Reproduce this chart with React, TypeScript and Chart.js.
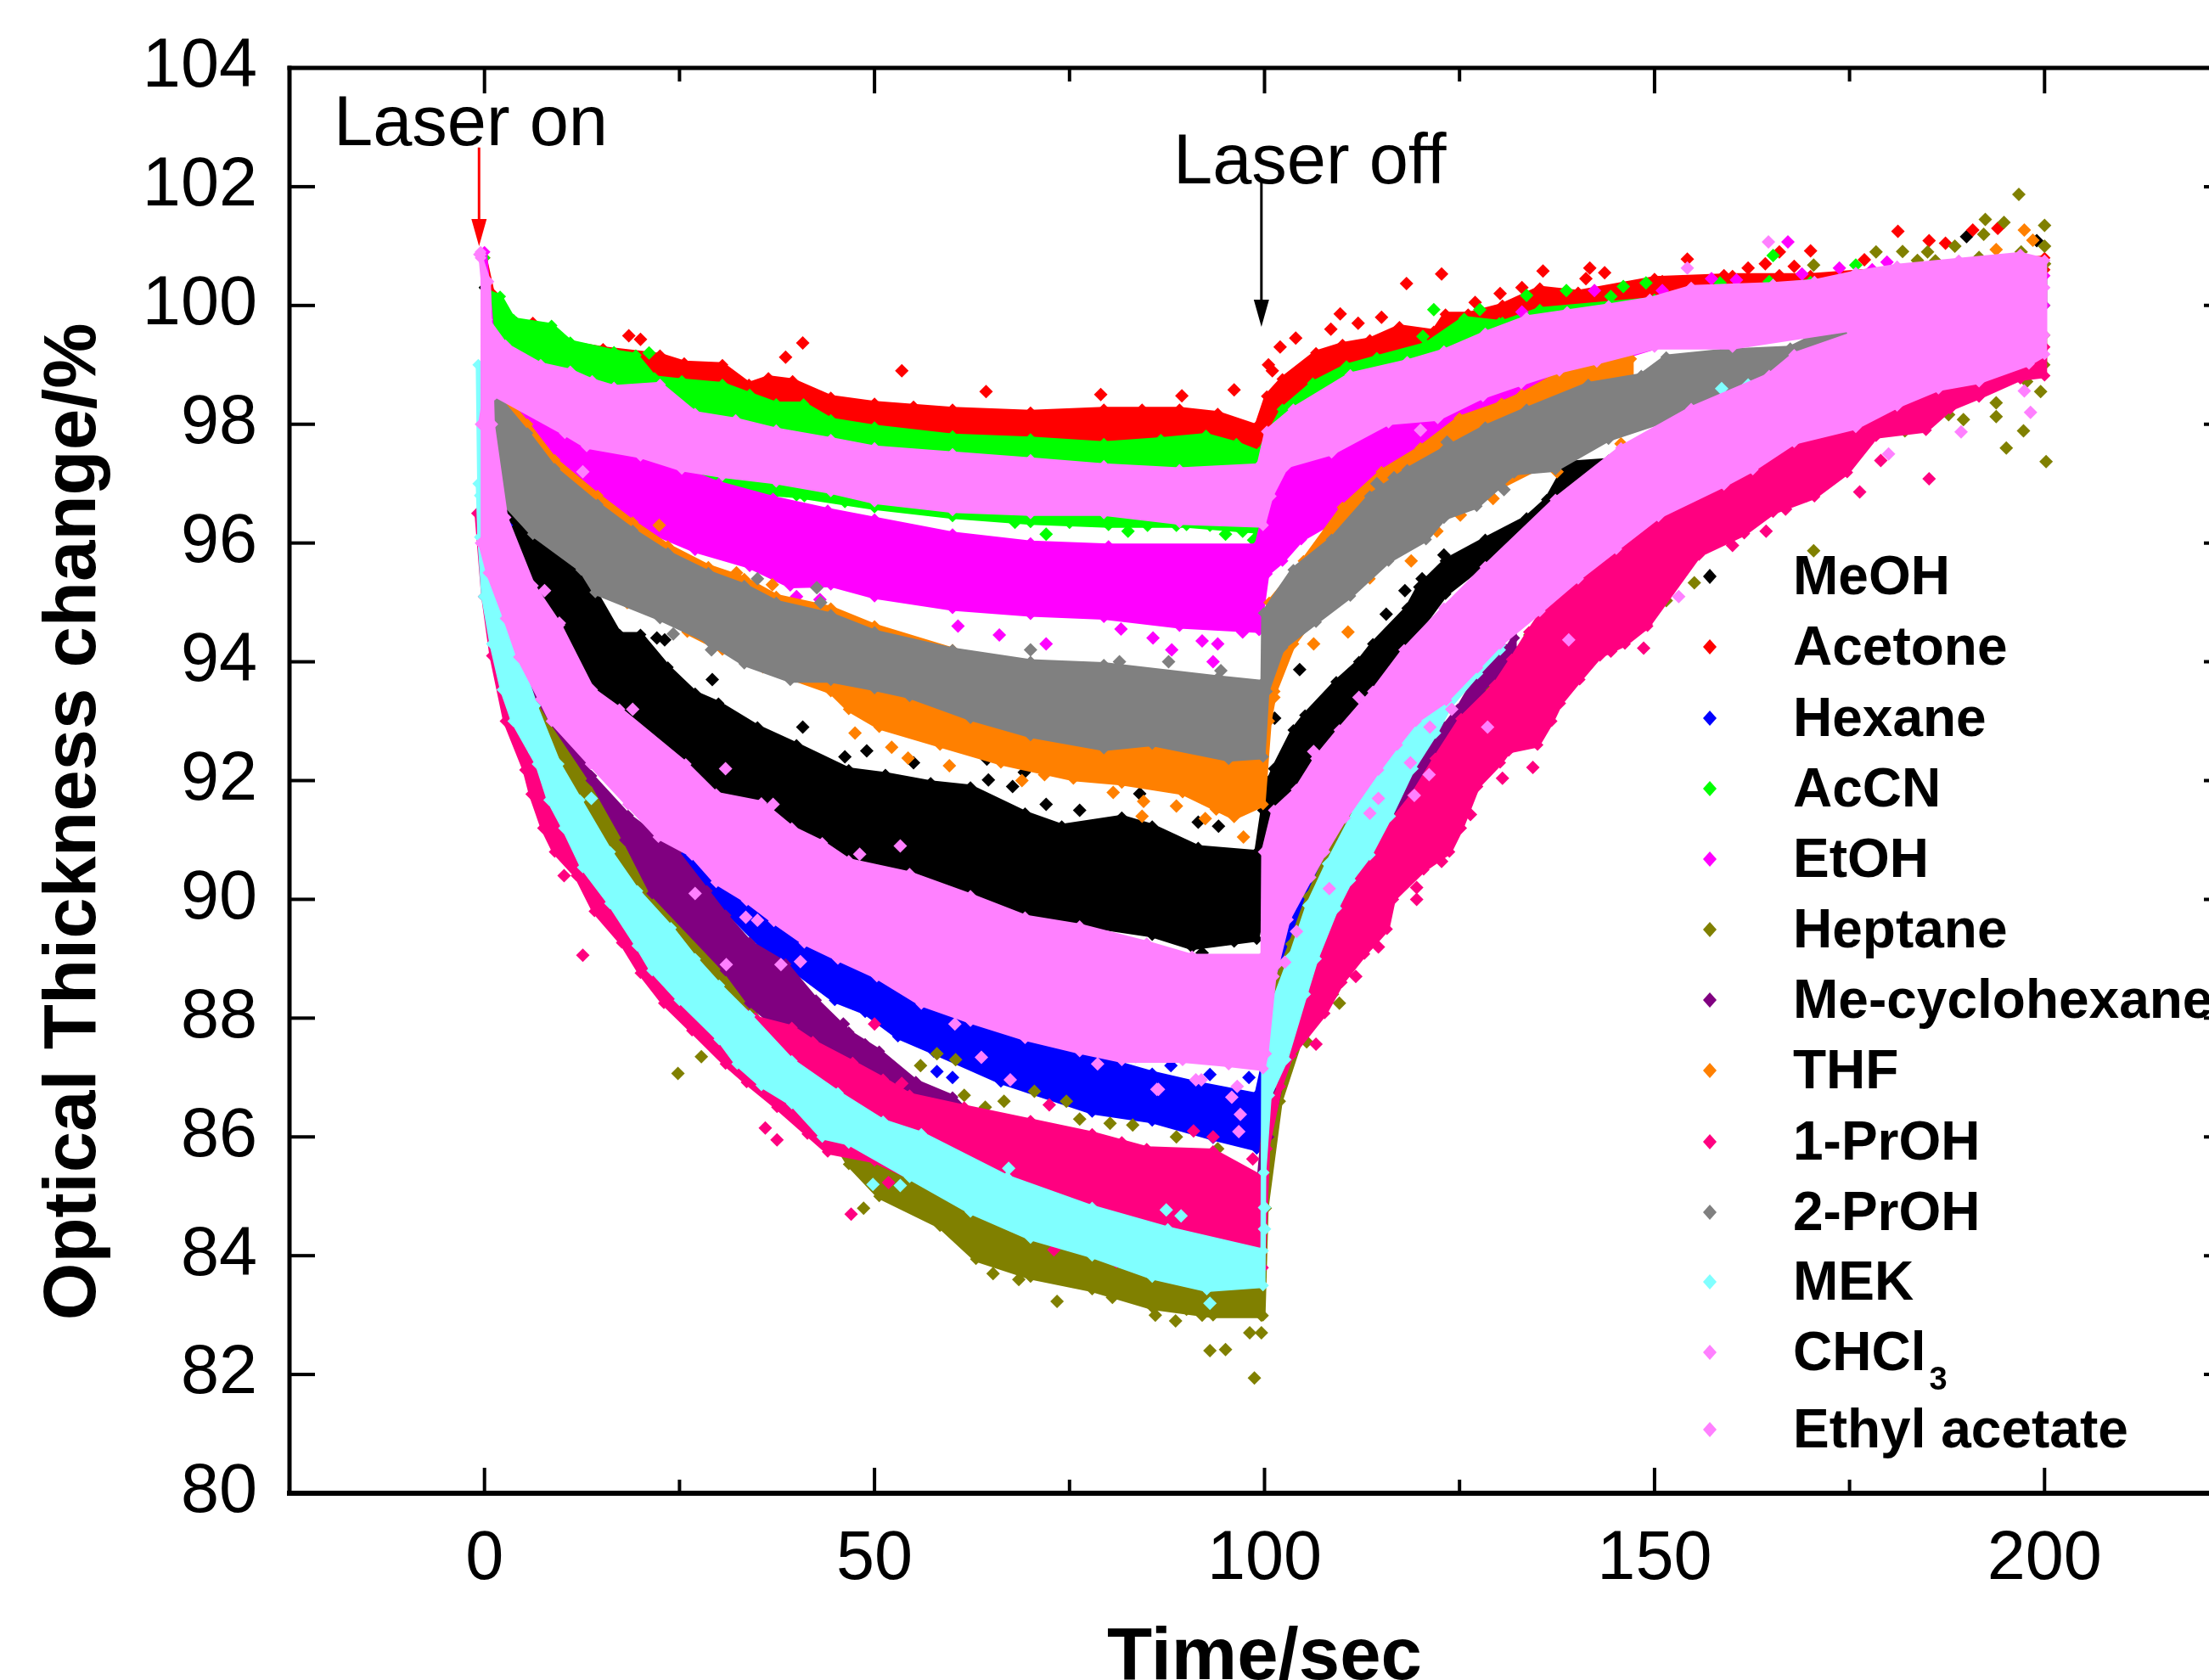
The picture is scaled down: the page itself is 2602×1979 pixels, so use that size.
import React, { useEffect, useRef } from "react";
import { Chart, registerables } from "chart.js";

Chart.register(...registerables);

type P = [number, number];

const xTicks = [0, 50, 100, 150, 200];
const xMinorTicks = [25, 75, 125, 175];
const yTicks = [80, 82, 84, 86, 88, 90, 92, 94, 96, 98, 100, 102, 104];

const names = ["MeOH", "Acetone", "Hexane", "AcCN", "EtOH", "Heptane", "Me-cyclohexane", "THF", "1-PrOH", "2-PrOH", "MEK", "CHCl", "Ethyl acetate"];
const colors = ["#000000", "#ff0000", "#0000ff", "#00ff00", "#ff00ff", "#808000", "#800080", "#ff8000", "#ff0080", "#808080", "#80ffff", "#ff80ff", "#ff80ff"];

const meohUpper: P[] = [[0, 100.3], [0.95, 97.36], [2.7, 96.65], [6.9, 96.05], [9.6, 96], [11.7, 95.66], [14.2, 95.17], [17.3, 94.46], [20, 94.46], [23.5, 93.91], [27, 93.47], [30, 93.3], [35, 92.9], [40, 92.6], [46.7, 92.18], [51.4, 92.1], [57.2, 91.96], [62.3, 91.89], [69.3, 91.45], [74, 91.23], [81.7, 91.38], [85.6, 91.23], [91.5, 90.87], [99, 90.79], [99.8, 91.5], [100.6, 92], [101.2, 92.2], [103.7, 92.85], [105.2, 93.1], [109.2, 93.66], [112.1, 94], [113.9, 94.3], [118.3, 94.9], [119.8, 95.26], [123.2, 95.7], [128.3, 96.06], [133.6, 96.42], [136.2, 96.73], [138.8, 97.34], [144.1, 97.39], [145.7, 97.54]];
const meohLower: P[] = [[0, 99], [0.95, 97], [2.7, 96.2], [6.2, 95.28], [9.6, 94.62], [13.8, 93.53], [17.3, 93.2], [25, 92.4], [30, 91.8], [35, 91.5], [40, 91.1], [46.7, 90.57], [54.5, 90.28], [62.3, 90.14], [68.5, 89.7], [77.9, 89.55], [85.6, 89.4], [90.7, 89.19], [99, 89.33], [100, 90], [101.2, 91.4], [104.1, 91.85], [106.6, 92.37], [109.6, 92.85], [113.9, 93.5], [117.9, 94.2], [123.2, 95.14], [127.2, 95.55], [130.9, 95.81], [134.6, 96.2], [137.3, 96.67], [139.4, 96.83], [144.1, 97.18], [145.7, 97.39]];
const meohStray: P[] = [[29.2, 93.7], [22.1, 94.4], [23.1, 94.37], [40.8, 92.9], [46.2, 92.4], [64.4, 92.36], [64.6, 92.01], [69.2, 92.14], [67.7, 91.9], [76.3, 91.5], [84, 91.78], [91.5, 91.3], [94.1, 91.23], [92, 89.1], [96.1, 89.3], [104.5, 93.87], [123, 95.8], [115.6, 94.8], [118, 95.2], [120.2, 95.4], [101.3, 93.05], [49, 92.5], [55, 92.3], [72, 91.6], [190, 101.16], [199, 101.09]];

const acetoneUpper: P[] = [[0, 100.8], [1, 100.2], [4.1, 99.71], [6.2, 99.71], [10, 99.38], [15.2, 99.27], [22.5, 99.16], [25.6, 99.03], [30.5, 99], [33.9, 98.67], [36.4, 98.78], [39.5, 98.73], [44.4, 98.45], [50, 98.35], [55, 98.3], [60, 98.25], [70, 98.2], [79.4, 98.25], [84.3, 98.25], [89.1, 98.25], [94, 98.18], [99, 97.96], [100.3, 98.47], [102.3, 98.76], [106.6, 99.2], [110, 99.34], [113.5, 99.42], [117.3, 99.64], [121.7, 99.56], [123.2, 99.85], [126.1, 99.85], [130.5, 100], [135.3, 100.29], [140.2, 100.22], [150, 100.45], [160, 100.5], [170, 100.5], [200, 100.8]];
const acetoneLower: P[] = [[0, 99], [5, 98.9], [10, 98.6], [20, 98.1], [30, 97.8], [40, 97.6], [50, 97.4], [60, 97.3], [70, 97.3], [80, 97.3], [90, 97.3], [99, 97.3], [105, 97.9], [110, 98.4], [120, 99.1], [130, 99.6], [140, 99.8], [150, 100], [170, 100.3], [200, 100.6]];
const acetoneStray: P[] = [[18.5, 99.49], [20, 99.43], [40.8, 99.37], [38.6, 99.13], [53.5, 98.9], [64.3, 98.55], [79, 98.5], [89.4, 98.48], [96.1, 98.58], [109.7, 99.86], [118.2, 100.37], [122.7, 100.53], [135.7, 100.58], [141.2, 100.45], [141.7, 100.63], [143.6, 100.55], [154.2, 100.78], [170, 100.92], [181.2, 101.25], [185.2, 101.09], [187.3, 101.05], [190.8, 101.27], [194, 101.3], [166, 100.9], [162, 100.63], [164.2, 100.7], [166, 100.5], [167.9, 100.66], [176.9, 100.77], [158.9, 100.5], [153.6, 100.4], [101, 98.9], [100.5, 99], [102, 99.3], [104, 99.45], [108.5, 99.6], [112, 99.7], [115, 99.8], [130.2, 100.2], [133, 100.3], [127, 100.05], [147, 100.3], [151, 100.4]];

const hexaneUpper: P[] = [[22, 91.2], [26, 90.9], [30.9, 90.3], [35.5, 89.9], [40, 89.5], [46.7, 88.97], [52.6, 88.6], [62.3, 88], [70, 87.58], [77.9, 87.36], [85.6, 87.07], [91.5, 86.89], [99, 86.7], [100, 87.3], [101.2, 88.7], [103, 89.66], [105.9, 90.37], [107.7, 90.8], [110.3, 91.37], [114.6, 92.18]];
const hexaneLower: P[] = [[22, 90.9], [26, 90.6], [30.9, 89.83], [35.5, 89.22], [40.2, 88.76], [44.9, 88.3], [48.8, 88.1], [53, 87.69], [57.6, 87.43], [66.2, 86.93], [77.9, 86.42], [85.6, 86.27], [93.4, 85.98], [99, 85.8], [100, 86.4], [101.2, 88], [103, 89], [105.9, 89.8], [107.7, 90.3], [110.3, 91], [114.6, 92]];
const hexaneStray: P[] = [[2.8, 96.3], [62, 87.3], [58, 87.1], [60, 87], [88, 87.2], [93, 87.05], [98, 87]];

const accnUpper: P[] = [[0, 100.8], [0.3, 100.23], [2, 100.15], [3.7, 99.76], [8.6, 99.66], [11, 99.38], [16.6, 99.22], [19.4, 99.16], [21.8, 98.78], [25.3, 98.73], [30.5, 98.67], [34, 98.5], [37.4, 98.34], [40.9, 98.34], [44.4, 98.07], [50, 97.95], [60, 97.8], [70, 97.75], [79.4, 97.67], [86.7, 97.74], [92.5, 97.81], [96.4, 97.67], [99.3, 97.52], [102.3, 98.25], [106.2, 98.69], [110.5, 98.98], [114.4, 99.12], [120.7, 99.34], [125.6, 99.78], [130.5, 99.71], [135.3, 99.93], [150, 100.1], [170, 100.4], [200, 100.7]];
const accnLower: P[] = [[0, 98], [5, 98.2], [10, 97.8], [20, 97.2], [30, 96.9], [40, 96.8], [50, 96.6], [60, 96.45], [70, 96.35], [80, 96.3], [90, 96.3], [99, 96.2], [105, 97.3], [110, 97.8], [120, 98.4], [130, 99], [150, 99.6], [200, 100]];
const accnStray: P[] = [[21.1, 99.2], [8.3, 99.6], [121.7, 99.93], [127.6, 99.93], [133.6, 100.17], [138.7, 100.25], [120.3, 99.48], [124.2, 99.43], [80.8, 96.4], [82.5, 96.2], [88.7, 96.3], [93, 96.3], [95, 96.15], [97.2, 96.2], [98.6, 96.05], [46.2, 96.7], [52.6, 96.7], [68, 96.35], [41, 96.8], [34.4, 96.98], [165.2, 100.84], [146, 100.32], [148.9, 100.38], [130.1, 99.69], [144.4, 100.15], [158.4, 100.38], [164.7, 100.4], [175.8, 100.68], [85, 96.3], [75, 96.35], [72, 96.15]];

const etohUpper: P[] = [[0, 100.9], [1.3, 99], [5, 98.6], [10, 98], [20, 97.5], [30, 97], [37, 96.75], [44, 96.55], [50, 96.4], [60, 96.15], [70, 96], [80, 95.95], [99, 95.95], [101, 97], [105, 98], [110, 98.4], [120, 99], [130, 99.5], [150, 99.9], [200, 100.5]];
const etohLower: P[] = [[0, 98.6], [1.3, 98.6], [5.5, 97.96], [9, 97.3], [14.5, 96.65], [19, 96.32], [27, 95.88], [34, 95.61], [39.2, 95.28], [44.4, 95.3], [50, 95.1], [60, 94.9], [70, 94.8], [79.4, 94.75], [89.1, 94.6], [99.3, 94.53], [100.3, 95.48], [102.3, 95.7], [104.7, 96.06], [109.6, 96.43], [113.5, 96.79], [118.3, 97.16], [122.2, 97.52], [128.3, 98.05], [132.5, 98.36], [140, 98.9], [160, 99.7], [200, 100]];
const etohStray: P[] = [[81.6, 94.55], [85.7, 94.4], [88.1, 94.2], [92, 94.35], [94, 94.3], [93.4, 94], [97.2, 94.5], [60.7, 94.6], [66, 94.45], [72, 94.3], [133, 99.89], [142.3, 100.25], [151, 100.25], [157.3, 100.45], [160.5, 100.43], [167.1, 101.07], [168.9, 100.53], [173.7, 100.63], [179.8, 100.73], [177.9, 100.6], [125.6, 98.46], [129.9, 98.56], [133.6, 98.6], [137.3, 98.72], [141.5, 98.92], [40, 95.1], [43, 95.05]];

const heptaneUpper: P[] = [[2.7, 94.73], [4.4, 93.9], [7.5, 93.2], [13.3, 92.08], [15.7, 91.46], [19.6, 90.7], [21.5, 90.1], [25, 89.7], [27.7, 89.27], [30.9, 88.8], [32.8, 88.45], [37, 87.6], [42, 87.2], [50, 86.7], [60, 86.3], [70, 86], [80, 85.7], [90, 85.5], [99.8, 85.2], [100.3, 85.8], [101.2, 88.5], [103.4, 89.25], [105.6, 90.05], [108.1, 90.75], [111.7, 91.65], [114, 92], [120, 92.3], [123.2, 92.9], [128, 93.65], [132, 94.1], [133.9, 94.45], [137, 94.8], [145, 95.8], [160, 97.5], [175, 98.5], [200, 99.5]];
const heptaneLower: P[] = [[3.7, 93.9], [6.2, 93.26], [10, 92.28], [15, 91], [20, 90], [25, 89.2], [30, 88.5], [35, 87.8], [40, 87], [46.7, 85.54], [50.6, 85], [58.4, 84.5], [63, 83.94], [70, 83.64], [77.9, 83.43], [85.6, 83.13], [93.4, 82.99], [99.8, 82.99], [100.2, 84.8], [102, 86.6], [105, 87.8], [110, 89], [117, 90.8], [120, 91.8], [123.2, 92.3], [128, 93.1], [132, 93.9], [137, 94.4], [145, 95.3], [160, 97], [175, 98], [200, 99]];
const heptaneStray: P[] = [[24.8, 87.07], [27.8, 87.35], [48.6, 84.8], [65.2, 83.7], [73.4, 83.23], [80.5, 83.3], [88.6, 82.9], [93, 82.4], [95, 82.42], [98.7, 81.94], [98.1, 82.7], [99.6, 82.7], [99.6, 83], [58, 87.4], [60.4, 87.3], [55.9, 87.2], [66.6, 86.6], [70.5, 86.77], [74.6, 86.6], [80.2, 86.23], [83.1, 86.2], [88.7, 86], [94, 85.8], [76.3, 86.3], [64.2, 86.5], [61.5, 86.7], [109.6, 88.25], [108.7, 88.4], [105.4, 87.6], [104.1, 87.6], [102.7, 87.1], [196.7, 101.87], [192.4, 101.45], [194.8, 101.4], [200, 101.35], [200, 101], [170.4, 100.68], [178.4, 100.9], [181.8, 100.91], [188.5, 101], [192.2, 101.2], [191.6, 100.81], [183.7, 100.76], [199.5, 98.55], [197.3, 97.89], [195.1, 97.6], [200.2, 97.37], [193.8, 98.13], [193.8, 98.36], [189.6, 98.08], [187.7, 98.16], [182.1, 97.89], [169.5, 96.83], [170.4, 95.87], [155.1, 95.33], [151.5, 95.03], [197.7, 98.72], [197, 100.9], [185, 100.9], [186, 100.75], [200, 100.7], [61, 84.5], [68.5, 83.6], [72, 83.8], [76, 83.6], [84, 83.4], [86, 83], [90, 83.1], [92, 83], [96, 83.1]];

const mecyUpper: P[] = [[6.2, 93.75], [8.6, 93.25], [13.7, 92.08], [18.4, 91.41], [24.6, 90.8], [28.5, 90.14], [30.9, 89.73], [34, 89.27], [38.6, 88.91], [42.5, 88.3], [46.7, 87.76], [50.6, 87.44], [55.3, 86.93], [60, 86.67], [62, 86.4], [70, 85.8], [99, 84.8], [100.5, 87], [105, 89.5], [110, 91], [116.1, 91.4], [120, 92.3], [123, 92.9], [124.8, 93.2], [127.7, 93.85], [131, 94.2], [132, 94.4]];
const mecyLower: P[] = [[5, 93.8], [8.6, 93], [13.7, 92], [18, 91], [21.5, 90.1], [30.9, 88.8], [34, 88.25], [37.1, 87.9], [42.1, 87.6], [47.2, 87.18], [52.6, 86.93], [58.4, 86.5], [62, 86.3], [70, 85.5], [99, 84.6], [100.5, 86], [105, 88.5], [110, 90.2], [116.1, 91.2], [120, 91.95], [123, 92.55], [124.8, 93], [127.7, 93.5], [131, 93.95], [132, 94.2]];
const mecyStray: P[] = [[137.8, 95], [46, 87.9], [48.8, 87.55], [143, 95.6]];

const thfUpper: P[] = [[0.5, 98.8], [5.5, 98], [9, 97.4], [14.5, 96.8], [19, 96.35], [23.5, 95.95], [28.7, 95.6], [33.3, 95.4], [37.4, 95.1], [44.4, 94.9], [50, 94.6], [60, 94.2], [70, 93.9], [80, 93.7], [99.8, 93], [100.6, 95], [105, 95.7], [110, 96.6], [115, 97.2], [120, 97.6], [125, 98.1], [130.4, 98.35], [133, 98.5], [137.8, 98.85], [141.5, 99.05], [147, 99.1]];
const thfLower: P[] = [[0.5, 97.5], [2.7, 96.8], [6.2, 96.3], [12.4, 95.7], [18, 95.1], [22, 94.9], [26, 94.5], [30.5, 94.2], [35.7, 93.9], [44.4, 93.5], [46.7, 93.2], [50.6, 92.9], [58.4, 92.6], [66.2, 92.3], [75.5, 92.03], [81.7, 91.96], [89.5, 91.8], [96.1, 91.38], [99.8, 91.6], [100.6, 93], [101.3, 93.5], [103.7, 94.3], [107.6, 94.97], [110, 95.19], [113.5, 95.4], [116, 95.8], [125, 96.6], [137, 97.4], [147, 98]];
const thfStray: P[] = [[118.8, 95.7], [110.7, 94.5], [106.3, 94.3], [122.1, 96.2], [125.1, 96.47], [129.3, 96.75], [145.7, 97.67], [137.5, 97.2], [151.2, 98], [22.4, 96.3], [36.9, 95.3], [34.3, 95.2], [32.3, 95.5], [18.3, 95], [47.5, 92.8], [52.2, 92.56], [54.3, 92.38], [59.6, 92.25], [68.9, 92], [71.8, 92.1], [80.6, 91.8], [84.5, 91.65], [84.3, 91.4], [88.7, 91.57], [92.4, 91.36], [93.8, 91.52], [97.3, 91.05], [101.2, 93.4], [197.4, 101.27], [193.8, 100.94], [198.5, 101.1]];

const propUpper: P[] = [[0, 98], [1, 96], [2, 94.3], [5, 92.5], [9.5, 91.8], [16.1, 90.7], [19.6, 90.05], [23.9, 89.45], [27, 88.9], [30.1, 88.45], [34.7, 88], [39.4, 87.84], [42.1, 87.6], [47.2, 87.25], [51.1, 86.97], [54.5, 86.7], [61.5, 86.5], [70, 86.27], [77.9, 86.05], [84.9, 85.8], [93.4, 85.76], [99.8, 85.3], [100.3, 85.8], [102.7, 87.3], [105.2, 88.4], [106.6, 89], [109.2, 89.85], [111, 90.32], [113.5, 90.75], [116.1, 91.27], [119, 91.75], [121.9, 92.37], [125.2, 93.04], [129.5, 93.6], [131.7, 94.04], [133.9, 94.5], [137, 95.1], [142, 95.7], [146.8, 96.1], [150.5, 96.6], [158.9, 97.1], [167.9, 97.8], [181, 98.4], [191.6, 98.9], [200, 99.3]];
const propLower: P[] = [[-0.96, 96.5], [-0.1, 95.1], [0.95, 94.1], [2.7, 93], [5.2, 92.18], [6, 91.77], [7.5, 91.2], [9, 90.8], [11.8, 90.4], [14.1, 89.8], [17.6, 89.27], [20, 88.76], [23, 88.25], [26.6, 87.79], [30.9, 87.23], [33.6, 86.92], [37.5, 86.5], [41.4, 86.05], [44, 85.75], [50, 85.6], [60, 85], [70, 84.5], [80, 84.1], [90, 83.8], [99.8, 83.8], [100.6, 86.46], [102, 86.85], [103.4, 87.37], [107.7, 88.08], [109.9, 88.6], [112.8, 89.08], [115.7, 89.5], [116.5, 90], [120.4, 90.5], [123.7, 90.8], [125.2, 91.2], [127.3, 91.9], [130.2, 92.3], [131.3, 92.5], [135, 92.6], [136.8, 93], [137.9, 93.3], [140.4, 93.7], [143, 94.1], [146.2, 94.3], [149.1, 94.6], [155.7, 95.8], [161.5, 96.16], [165.2, 96.52], [170.5, 96.78], [174.7, 97.19], [178.4, 97.8], [184.8, 97.9], [187.9, 98.26], [191.6, 98.46], [196.9, 98.77], [200, 98.82]];
const propStray: P[] = [[12.6, 89.06], [10.2, 90.4], [19.5, 90.1], [22.5, 89.6], [72.4, 86.54], [81.7, 85.9], [90.9, 86.1], [93.4, 86], [98.5, 85.63], [73, 84.1], [51.8, 85.23], [81, 83.9], [61.1, 84.9], [36, 86.15], [37.5, 85.95], [47, 84.7], [185.2, 97.08], [176.3, 96.86], [164.3, 96.2], [179, 97.39], [169.5, 96.8], [166.8, 96.57], [160, 95.96], [148.9, 94.63], [106.6, 87.56], [111.7, 88.7], [114.6, 89.2], [119.5, 90.2], [119.5, 90], [122.7, 90.64], [126.4, 91.43], [130.5, 92.04], [134.4, 92.22], [144.4, 94.18], [148.6, 94.23], [50, 87.9], [53.5, 86.9]];

const iproUpper: P[] = [[0.3, 98.67], [5.5, 97.85], [9, 97.25], [14.5, 96.65], [19, 96.21], [23.5, 95.83], [28.7, 95.5], [33.3, 95.28], [37.4, 95], [44.4, 94.79], [50, 94.5], [60, 94.2], [70, 94], [79.4, 93.95], [94, 93.73], [99.8, 93.65], [99.9, 94.82], [103.7, 95.55], [108.6, 96.06], [113.5, 96.79], [118.3, 97.23], [123.2, 97.59], [128.3, 97.95], [133.6, 98.25], [141.5, 98.67], [148.3, 98.82], [151.5, 99.13], [158.9, 99.23], [167.4, 99.28], [170.5, 99.48], [174.2, 99.58]];
const iproLower: P[] = [[0.6, 97.41], [2.7, 96.65], [6.2, 96.15], [12.4, 95.55], [14.2, 95.17], [22.5, 94.73], [28.7, 94.35], [33.3, 93.97], [39.2, 93.69], [44.4, 93.69], [50, 93.55], [54.5, 93.42], [62.3, 93.05], [70, 92.76], [79.4, 92.54], [85.6, 92.62], [95.4, 92.36], [99.8, 92.4], [100.3, 93.5], [102.3, 94.24], [106.6, 94.67], [111, 95.11], [115.9, 95.7], [120.7, 96.06], [123, 96.42], [127.2, 96.62], [132, 97.18], [137.3, 97.24], [144.1, 97.75], [151, 98.05], [156.8, 98.36], [164.7, 98.82], [167.9, 99.17], [174.2, 99.5]];
const iproStray: P[] = [[35, 95.4], [42.6, 95.25], [43.1, 95], [24.2, 94.47], [29.1, 94.2], [114.4, 97], [116.6, 97.1], [130.7, 96.9], [123.4, 97.7], [94.4, 93.85], [87.7, 94], [81.4, 94], [70, 94.2], [177.5, 99.6], [174.5, 99.4]];

const mekUpper: P[] = [[-0.8, 99], [-0.6, 96.8], [2.7, 94.73], [4.4, 94.08], [6.5, 93.26], [9.5, 92.28], [12.2, 91.67], [16.1, 90.8], [19.6, 90.14], [23.9, 89.52], [27, 89], [30.1, 88.55], [34, 88.04], [39.4, 87.28], [45.3, 86.74], [51.1, 86.26], [56, 86.05], [67, 85.32], [77.9, 84.81], [87.6, 84.45], [99.8, 84.08], [99.9, 87.5], [101.2, 88.27], [103.4, 89.04], [105.6, 89.9], [108.1, 90.6], [111.7, 91.5], [114.6, 92.13], [117.2, 92.56], [119.4, 92.94], [123.3, 93.32], [127.3, 93.85], [128.4, 94.09], [130.2, 94.28]];
const mekLower: P[] = [[-0.8, 97], [-0.6, 96.1], [-0.1, 95.1], [0.95, 94.3], [2.3, 93.53], [3.7, 93], [6.8, 92.28], [8.3, 91.67], [10.2, 91.2], [12.6, 90.54], [16.1, 89.93], [19.6, 89.22], [21.5, 88.8], [25, 88.3], [30.1, 87.64], [32.4, 87.23], [35.5, 86.87], [39.4, 86.56], [43.3, 86], [46.7, 85.9], [54.5, 85.32], [62.3, 84.74], [70, 84.3], [77.9, 84], [85.6, 83.64], [92.6, 83.43], [99.8, 83.5], [99.9, 85.4], [100.6, 86.7], [102.7, 87.3], [105.2, 88.4], [106.6, 89], [109.2, 89.85], [111, 90.32], [113.5, 90.75], [116.1, 91.4], [119, 92.2], [121.9, 92.8], [123.7, 93.25], [127.3, 93.8], [130.2, 94.2]];
const mekStray: P[] = [[67.2, 85.47], [87.4, 84.77], [89.3, 84.67], [100, 84.81], [100, 84.45], [49.8, 85.2], [53.3, 85.18], [93, 83.2], [13.7, 91.7], [158.6, 98.6], [162, 98.66], [153, 97.9], [145.8, 96.4]];

const chclUpper: P[] = [[-0.5, 100.8], [0.5, 100.4], [1, 98], [2.7, 96.43], [6.2, 95.28], [9.6, 94.62], [13.8, 93.53], [17.3, 93.2], [25.8, 92.28], [29.7, 91.77], [35.5, 91.62], [39.4, 91.2], [43.3, 90.95], [46.7, 90.65], [54.5, 90.43], [62.3, 90.06], [69.3, 89.7], [76.3, 89.55], [84.9, 89.26], [90.7, 89.04], [99.8, 89.04], [99.9, 90.8], [101.2, 91.5], [104.1, 91.85], [106.6, 92.37], [109.6, 92.85], [113.9, 93.5], [117.9, 94.2], [123, 94.9], [128.3, 95.6], [137.3, 96.73], [145.7, 97.6], [154.7, 98.26], [164.7, 98.82], [167.9, 99.17], [175.8, 99.53], [200, 100.3]];
const chclLower: P[] = [[-0.5, 96], [0.5, 95.5], [2.7, 94.73], [4.4, 94.08], [7.2, 93.37], [8.6, 93], [13.6, 92.28], [18.4, 91.6], [22.3, 91.05], [26.6, 90.75], [29.7, 90.29], [33.6, 89.98], [37.1, 89.63], [41, 89.27], [45.3, 89], [50.3, 88.7], [56, 88.24], [62.3, 87.95], [69.3, 87.66], [76.3, 87.44], [81.7, 87.29], [89.5, 87.29], [95.4, 87.22], [99.8, 87.15], [100.2, 87.4], [101.2, 88.7], [103, 89.66], [105.9, 90.37], [107.7, 90.8], [110.3, 91.37], [114.6, 92.18], [117, 92.6], [119.4, 93], [123.3, 93.35], [127.3, 93.9], [130.2, 94.3], [135.3, 94.85], [140.2, 95.4], [145.1, 95.9], [150.5, 96.45], [158.9, 96.98], [162.6, 97.24], [167.9, 97.7], [175.8, 97.95], [181.1, 98.31], [186.4, 98.6], [191.6, 98.72], [198, 99.02], [200, 99.18]];
const chclStray: P[] = [[30.9, 92.2], [7.7, 95.2], [9.6, 94.65], [19, 93.2], [48.1, 90.76], [53.3, 90.9], [112.1, 93.4], [106.3, 92.49], [60.3, 87.9], [63.7, 87.34], [67.4, 86.96], [78.6, 87.23], [86.4, 86.8], [91.9, 86.96], [96.9, 86.38], [96.7, 86.09], [96.5, 86.85], [95.8, 86.67], [83.5, 87.35], [86.2, 86.8], [91.2, 86.96], [101.5, 88.9], [37, 91.6], [153.1, 95.1], [180, 97.5], [189.3, 97.87], [198.2, 98.2], [197.4, 98.56], [154.2, 100.63], [27, 90.1], [33.5, 89.7], [35, 89.65], [38, 88.9], [40.5, 88.95], [31, 88.9], [108.3, 90.18], [114.6, 91.7], [113.5, 91.45], [104.1, 89.46], [102.6, 88.94], [118.7, 92.3], [121.2, 92.9], [128.6, 92.9], [121.1, 92.1], [119.2, 91.75], [124, 93.2], [139, 94.37]];

const ethylUpper: P[] = [[-0.5, 100.9], [0.3, 99.76], [2.7, 99.33], [7.2, 99], [11, 98.89], [13.8, 98.73], [16.6, 98.62], [22.5, 98.67], [27, 98.18], [32.2, 98.07], [37.4, 97.9], [44.4, 97.74], [50, 97.6], [60, 97.5], [70, 97.4], [79.4, 97.3], [89.1, 97.23], [99.3, 97.3], [100.3, 97.88], [103.7, 98.25], [111, 98.83], [118.3, 99.05], [123, 99.23], [128.3, 99.53], [133.6, 99.79], [138.8, 99.89], [144.1, 99.99], [149.4, 100.1], [154.7, 100.3], [165.2, 100.35], [170.5, 100.4], [175.8, 100.55], [181.1, 100.66], [189, 100.76], [196.9, 100.86], [200, 100.76]];
const ethylLower: P[] = [[-0.5, 98], [0.3, 98.67], [1.3, 98.5], [10.3, 97.85], [13.1, 97.63], [20, 97.47], [25.3, 97.25], [30.5, 97.14], [37.4, 97.03], [44.4, 96.87], [50, 96.7], [60, 96.55], [70, 96.5], [79.4, 96.5], [89.1, 96.35], [99.8, 96.3], [100.8, 96.79], [102.8, 97.3], [108.6, 97.52], [115.9, 98.03], [122.2, 98.1], [128, 98.47], [132.9, 98.69], [137.8, 98.9], [142.6, 99.05], [150, 99.3], [160, 99.3], [175, 99.6], [200, 99.5]];
const ethylStray: P[] = [[164.6, 101.07], [-0.6, 100.86], [12.6, 97.2], [120, 97.9]];

const uppers = [meohUpper, acetoneUpper, hexaneUpper, accnUpper, etohUpper, heptaneUpper, mecyUpper, thfUpper, propUpper, iproUpper, mekUpper, chclUpper, ethylUpper];
const lowers = [meohLower, acetoneLower, hexaneLower, accnLower, etohLower, heptaneLower, mecyLower, thfLower, propLower, iproLower, mekLower, chclLower, ethylLower];
const strays = [meohStray, acetoneStray, hexaneStray, accnStray, etohStray, heptaneStray, mecyStray, thfStray, propStray, iproStray, mekStray, chclStray, ethylStray];

const laserOn = { t: -0.7, from: 102.66, to: 101.0 };
const laserOff = { t: 99.6, from: 102.1, to: 99.64 };

const toXY = (list: P[]) => list.map(([x, y]) => ({ x, y }));

const datasets: any[] = [];
names.forEach((name, i) => {
  datasets.push({
    label: name,
    data: toXY([...uppers[i], ...[...lowers[i]].reverse()]),
    showLine: true,
    fill: "shape",
    tension: 0,
    borderColor: colors[i],
    backgroundColor: colors[i],
    borderWidth: 6,
    pointStyle: "rectRot",
    pointRadius: 7,
    pointBackgroundColor: colors[i],
    pointBorderWidth: 0,
    order: 100 - 2 * i,
  });
  datasets.push({
    label: name + " scatter",
    data: toXY(strays[i]),
    showLine: false,
    pointStyle: "rectRot",
    pointRadius: 8,
    pointBackgroundColor: colors[i],
    pointBorderWidth: 0,
    order: 99 - 2 * i,
  });
});

const frame = {
  id: "frame",
  afterDatasetsDraw(chart: any) {
    const { ctx, chartArea: a, scales } = chart;
    const line = (x0: number, y0: number, x1: number, y1: number, w: number) => {
      ctx.lineWidth = w;
      ctx.beginPath();
      ctx.moveTo(x0, y0);
      ctx.lineTo(x1, y1);
      ctx.stroke();
    };
    ctx.save();
    ctx.strokeStyle = "#000";
    ctx.lineCap = "square";
    line(a.left, a.top, a.right, a.top, 5);
    line(a.left, a.top, a.left, a.bottom, 5);
    line(a.right, a.top, a.right, a.bottom, 5);
    line(a.left, a.bottom, a.right, a.bottom, 6);
    ctx.lineCap = "butt";
    const xt = (list: number[], len: number) =>
      list.forEach((v) => {
        const px = scales.x.getPixelForValue(v);
        line(px, a.bottom, px, a.bottom - len, 4);
        line(px, a.top, px, a.top + len, 4);
      });
    xt(xTicks, 30);
    xt(xMinorTicks, 16);
    yTicks.forEach((v) => {
      const py = scales.y.getPixelForValue(v);
      line(a.left, py, a.left + 30, py, 4);
      line(a.right, py, a.right - 42, py, 4);
    });

    const arrow = (spec: { t: number; from: number; to: number }, color: string) => {
      const px = scales.x.getPixelForValue(spec.t);
      const y0 = scales.y.getPixelForValue(spec.from);
      const y1 = scales.y.getPixelForValue(spec.to);
      ctx.strokeStyle = color;
      ctx.fillStyle = color;
      line(px, y0, px, y1 - 20, 3);
      ctx.beginPath();
      ctx.moveTo(px - 9, y1 - 32);
      ctx.lineTo(px + 9, y1 - 32);
      ctx.lineTo(px, y1);
      ctx.closePath();
      ctx.fill();
    };
    arrow(laserOn, "#ff0000");
    arrow(laserOff, "#000000");
    ctx.fillStyle = "#000";
    ctx.textAlign = "left";
    ctx.textBaseline = "alphabetic";
    ctx.font = '83px "Liberation Sans"';
    ctx.fillText("Laser on", 393, 171);
    ctx.fillText("Laser off", 1382, 216);

    const rowY = [679, 762, 846, 929, 1012, 1095, 1178, 1261, 1345, 1428, 1510, 1593, 1684];
    names.forEach((name, i) => {
      const y = rowY[i];
      ctx.fillStyle = colors[i];
      ctx.beginPath();
      ctx.moveTo(2014, y - 9);
      ctx.lineTo(2022, y);
      ctx.lineTo(2014, y + 9);
      ctx.lineTo(2006, y);
      ctx.closePath();
      ctx.fill();
      ctx.fillStyle = "#000";
      ctx.font = 'bold 64px "Liberation Sans"';
      ctx.textBaseline = "middle";
      ctx.fillText(name, 2112, y + 3);
      if (name === "CHCl") {
        const w = ctx.measureText(name).width;
        ctx.font = 'bold 38px "Liberation Sans"';
        ctx.fillText("3", 2112 + w + 4, y + 34);
      }
    });
    ctx.restore();
  },
};

export default function App() {
  const ref = useRef<HTMLCanvasElement>(null);
  useEffect(() => {
    const chart = new Chart(ref.current as HTMLCanvasElement, {
      type: "scatter",
      data: { datasets },
      plugins: [frame],
      options: {
        animation: false,
        responsive: false,
        devicePixelRatio: 1,
        layout: { padding: { left: 0, top: 80, right: 4, bottom: 0 } },
        plugins: { legend: { display: false }, tooltip: { enabled: false } },
        scales: {
          x: {
            type: "linear",
            min: -25,
            max: 225,
            afterFit: (s: any) => {
              s.height = 220;
            },
            afterBuildTicks: (s: any) => {
              s.ticks = xTicks.map((value) => ({ value }));
            },
            grid: { display: false, drawTicks: false },
            border: { display: false },
            ticks: { color: "#000", padding: 30, maxRotation: 0, autoSkip: false, font: { family: "Liberation Sans", size: 81 } },
            title: { display: true, text: "Time/sec", color: "#000", font: { family: "Liberation Sans", size: 87, weight: "bold" }, padding: { top: 0, bottom: -27 } },
          },
          y: {
            type: "linear",
            min: 80,
            max: 104,
            afterFit: (s: any) => {
              s.width = 341;
              s.paddingTop = 0;
              s.paddingBottom = 0;
            },
            afterBuildTicks: (s: any) => {
              s.ticks = yTicks.map((value) => ({ value }));
            },
            grid: { display: false, drawTicks: false },
            border: { display: false },
            ticks: { color: "#000", padding: 38, autoSkip: false, font: { family: "Liberation Sans", size: 81 } },
            title: { display: true, text: "Optical Thickness change/%    ", color: "#000", font: { family: "Liberation Sans", size: 87, weight: "bold" }, padding: { top: 36, bottom: 0 } },
          },
        },
      },
    } as any);
    return () => chart.destroy();
  }, []);
  return (
    <div style={{ position: "absolute", left: 0, top: 0, width: 2602, height: 1979, overflow: "hidden", background: "#fff" }}>
      <canvas ref={ref} width={2646} height={1979} style={{ display: "block" }} />
    </div>
  );
}
